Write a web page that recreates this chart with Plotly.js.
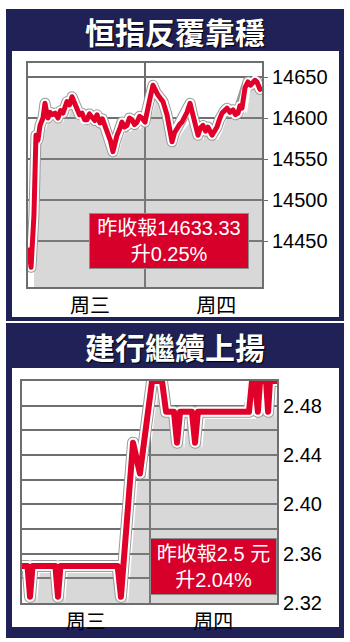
<!DOCTYPE html>
<html>
<head>
<meta charset="utf-8">
<script src="https://cdn.plot.ly/plotly-3.0.1.min.js"></script>
<style>
  html, body { margin: 0; padding: 0; background: #ffffff; }
  #chart { width: 350px; height: 642px; }
  .scatterlayer path.js-line { stroke-linejoin: round; stroke-linecap: round; }
</style>
</head>
<body>
<div id="chart"></div>
<script>
// Hang Seng Index, two sessions (Wed 0-100, Thu 100-200 on the time axis)
const hsiTime = [0.9, 2.6, 5.1, 6.8, 8.5, 10.3, 12.8, 14.5, 15.8, 17.1, 18.8, 20.5, 23.1, 25.6, 27.8, 29.9, 33.3, 35.5, 37.6,
  39.7, 41.9, 44.0, 46.2, 48.3, 50.4, 52.5, 54.7, 57.0, 59.0, 61.5, 63.6, 65.8, 68.4, 70.5, 72.6, 74.4, 76.1, 78.2, 80.3,
  82.4, 84.6, 86.7, 88.9, 91.0, 93.2, 95.3, 97.4, 100,
  101.7, 104.3, 106.8, 109.0, 111.1, 113.2, 115.4, 118.8, 121.0, 123.1, 125.2, 127.4, 129.5, 131.6, 133.7, 135.9, 138.5,
  140.6, 142.7, 145.3, 147.4, 149.6, 151.7, 153.8, 157.3, 159.4, 161.5, 163.6, 165.8, 168.0, 170.1, 172.6, 175.2,
  177.3, 179.5, 181.2, 182.9, 185.5, 188.0, 190.1, 192.3, 194.0, 195.7, 198.3];
const hsiValue = [14439, 14418, 14482, 14579, 14573, 14591, 14600, 14618, 14608, 14600, 14607, 14604, 14606, 14600, 14609, 14606, 14620, 14616, 14626,
  14618, 14612, 14604, 14606, 14598, 14598, 14605, 14601, 14597, 14604, 14594, 14599, 14591, 14579, 14572, 14559, 14570, 14579, 14586, 14595,
  14589, 14591, 14600, 14598, 14592, 14595, 14602, 14600, 14595,
  14610, 14624, 14640, 14632, 14628, 14624, 14620, 14604, 14590, 14571, 14582, 14588, 14592, 14595, 14600, 14607, 14618,
  14604, 14595, 14579, 14588, 14591, 14584, 14589, 14579, 14583, 14589, 14598, 14606, 14609, 14612, 14607, 14610,
  14604, 14606, 14615, 14612, 14637, 14644, 14640, 14643, 14646, 14644, 14635];
const hsiTicks = [14450, 14500, 14550, 14600, 14650];
const hsiDayPos = [53, 161];

// China Construction Bank share price over the same two sessions
const ccbTime = [0, 4.3, 6.3, 8.3, 26.2, 28.2, 30.2, 75.0, 77.6, 87.1, 92.5, 98.8, 102.0, 109.8, 113.0,
  119.2, 121.6, 124.0, 133.3, 135.7, 138.0, 178.0, 180.4, 182.7, 185.0, 186.7, 191.4, 193.0, 194.5, 200];
const ccbValue = [2.35, 2.35, 2.325, 2.35, 2.35, 2.325, 2.35, 2.35, 2.325, 2.45, 2.425, 2.48, 2.50, 2.50, 2.475,
  2.475, 2.45, 2.475, 2.475, 2.45, 2.475, 2.475, 2.50, 2.50, 2.475, 2.50, 2.50, 2.475, 2.50, 2.50];
const ccbTicks = [2.32, 2.36, 2.40, 2.44, 2.48];
const ccbDayPos = [50, 150];

const dayLabels = ['周三', '周四'];
const titles = ['恒指反覆靠穩', '建行繼續上揚'];
const notes = ['昨收報14633.33<br>升0.25%', '昨收報2.5 元<br>升2.04%'];

const W = 350, H = 642;
const NAVY = '#1f2157';
const RED = '#e1002a';
const BOX = '#d7002b';
const GRID = '#6e6e6e';
const NUM_FONT = 'Liberation Sans, Arial, Noto Sans CJK TC, sans-serif';
const CJK_FONT = 'Noto Sans CJK TC, Noto Sans CJK SC, sans-serif';

const px = v => v / W;
const py = v => 1 - v / H;

// line drawn as grey edge + white halo + red core
function haloTraces(x, y, xa, ya, w) {
  return [
    { x, y, xaxis: xa, yaxis: ya, mode: 'lines', line: { color: '#9a9a9a', width: w + 6 }, hoverinfo: 'skip' },
    { x, y, xaxis: xa, yaxis: ya, mode: 'lines', line: { color: '#ffffff', width: w + 4 }, hoverinfo: 'skip' },
    { x, y, xaxis: xa, yaxis: ya, mode: 'lines', line: { color: RED, width: w }, hoverinfo: 'skip' }
  ];
}
function shadowTrace(x, y, xa, ya) {
  return { x, y, xaxis: xa, yaxis: ya, mode: 'lines', fill: 'tozeroy',
    fillcolor: 'rgba(140,140,140,0.34)', line: { width: 0, color: 'rgba(0,0,0,0)' }, hoverinfo: 'skip' };
}

const data = [
  shadowTrace(hsiTime, hsiValue, 'x', 'y'),
  ...haloTraces(hsiTime, hsiValue, 'x2', 'y2', 5),
  shadowTrace(ccbTime, ccbValue, 'x3', 'y3'),
  ...haloTraces(ccbTime, ccbValue, 'x4', 'y4', 6)
];

// panel 1 plot box: x 28..262, y 63..287 ; panel 2: x 22..277, y 381..603
const d1x = [px(28), px(262)], d1y = [py(287), py(63)];
const d2x = [px(22), px(277)], d2y = [py(603), py(381)];
const r1y = [14393.9, 14667.1], r2y = [2.32, 2.50];

const hidden = { visible: false, fixedrange: true };
const tickFont = { family: NUM_FONT, size: 20, color: '#000000' };
const dayFont = { family: CJK_FONT, size: 20, color: '#000000' };

const layout = {
  width: W, height: H,
  margin: { l: 0, r: 0, t: 0, b: 0 },
  paper_bgcolor: '#ffffff',
  plot_bgcolor: 'rgba(0,0,0,0)',
  showlegend: false,
  // shadow layers (offset a few pixels right and down)
  xaxis: Object.assign({ domain: d1x, range: [-4.27, 195.73], anchor: 'y' }, hidden),
  yaxis: Object.assign({ domain: d1y, range: [r1y[0] + 6.1, r1y[1] + 6.1], anchor: 'x' }, hidden),
  xaxis3: Object.assign({ domain: d2x, range: [-5.5, 194.5], anchor: 'y3' }, hidden),
  yaxis3: Object.assign({ domain: d2y, range: [r2y[0] + 0.0057, r2y[1] + 0.0057], anchor: 'x3' }, hidden),
  // visible axes
  xaxis2: {
    overlaying: 'x', anchor: 'y2', range: [0, 200], fixedrange: true,
    tickmode: 'array', tickvals: hsiDayPos, ticktext: dayLabels, ticks: '',
    tickfont: dayFont, showgrid: false, zeroline: false,
    showline: true, mirror: true, linecolor: GRID, linewidth: 2,
    minor: { tickmode: 'array', tickvals: [100], showgrid: true, gridcolor: GRID, gridwidth: 2, ticks: '' }
  },
  yaxis2: {
    overlaying: 'y', anchor: 'x2', side: 'right', range: r1y, fixedrange: true,
    tickmode: 'array', tickvals: hsiTicks, ticktext: hsiTicks.map(String),
    ticks: 'outside', ticklen: 4, tickcolor: GRID, tickwidth: 1,
    tickfont: tickFont, showgrid: true, gridcolor: GRID, gridwidth: 2, zeroline: false,
    showline: true, mirror: true, linecolor: GRID, linewidth: 2
  },
  xaxis4: {
    overlaying: 'x3', anchor: 'y4', range: [0, 200], fixedrange: true,
    tickmode: 'array', tickvals: ccbDayPos, ticktext: dayLabels, ticks: '',
    tickfont: dayFont, showgrid: false, zeroline: false,
    showline: true, mirror: true, linecolor: GRID, linewidth: 2,
    minor: { tickmode: 'array', tickvals: [100], showgrid: true, gridcolor: GRID, gridwidth: 2, ticks: '' }
  },
  yaxis4: {
    overlaying: 'y3', anchor: 'x4', side: 'right', range: r2y, fixedrange: true,
    tickmode: 'array', tickvals: ccbTicks, ticktext: ccbTicks.map(v => v.toFixed(2)), ticks: '',
    tickfont: tickFont, showgrid: true, gridcolor: GRID, gridwidth: 2, zeroline: false,
    showline: true, mirror: true, linecolor: GRID, linewidth: 2,
    minor: { dtick: 0.02, tick0: 2.32, showgrid: true, gridcolor: GRID, gridwidth: 2, ticks: '' }
  },
  shapes: [
    { type: 'rect', xref: 'paper', yref: 'paper', layer: 'below', x0: px(6), x1: px(344), y0: py(321), y1: py(9), fillcolor: NAVY, line: { width: 0 } },
    { type: 'rect', xref: 'paper', yref: 'paper', layer: 'below', x0: px(12), x1: px(339), y0: py(317), y1: py(51), fillcolor: '#ffffff', line: { width: 0 } },
    { type: 'rect', xref: 'paper', yref: 'paper', layer: 'below', x0: px(6), x1: px(344), y0: py(638), y1: py(323), fillcolor: NAVY, line: { width: 0 } },
    { type: 'rect', xref: 'paper', yref: 'paper', layer: 'below', x0: px(12), x1: px(339), y0: py(627), y1: py(368), fillcolor: '#ffffff', line: { width: 0 } }
  ],
  annotations: [
    { xref: 'paper', yref: 'paper', x: px(175), y: py(31), xanchor: 'center', yanchor: 'middle', showarrow: false,
      text: titles[0], font: { family: CJK_FONT, size: 30, weight: 700, color: '#ffffff', shadow: '1px 1px 1px #000000' } },
    { xref: 'paper', yref: 'paper', x: px(175), y: py(346), xanchor: 'center', yanchor: 'middle', showarrow: false,
      text: titles[1], font: { family: CJK_FONT, size: 30, weight: 700, color: '#ffffff', shadow: '1px 1px 1px #000000' } },
    { xref: 'paper', yref: 'paper', x: px(169), y: py(241), xanchor: 'center', yanchor: 'middle', showarrow: false,
      text: notes[0], align: 'center', width: 156, height: 52, bgcolor: BOX, bordercolor: '#8c8c8c', borderwidth: 1, borderpad: 1,
      font: { family: NUM_FONT, size: 20, color: '#ffffff' } },
    { xref: 'paper', yref: 'paper', x: px(213.5), y: py(566.5), xanchor: 'center', yanchor: 'middle', showarrow: false,
      text: notes[1], align: 'center', width: 123, height: 53, bgcolor: BOX, bordercolor: '#8c8c8c', borderwidth: 1, borderpad: 1,
      font: { family: NUM_FONT, size: 20, color: '#ffffff' } }
  ]
};

Plotly.newPlot('chart', data, layout, { staticPlot: true, displayModeBar: false });
</script>
</body>
</html>
